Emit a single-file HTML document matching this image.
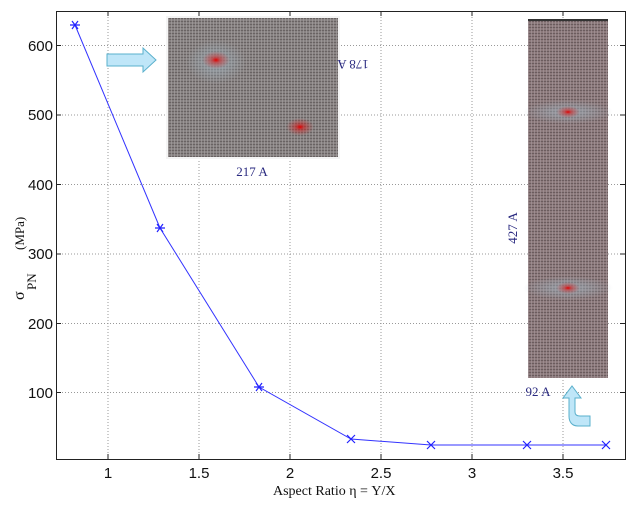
<!DOCTYPE html>
<html><head><meta charset="utf-8"><style>
html,body{margin:0;padding:0;background:#fff;}
svg{display:block;}
</style></head><body>
<svg width="641" height="507" viewBox="0 0 641 507" xmlns="http://www.w3.org/2000/svg" font-family="Liberation Sans, sans-serif">
<defs>
<pattern id="mesh" width="3" height="3" patternUnits="userSpaceOnUse">
<rect width="3" height="3" fill="#878282"/>
<rect width="3" height="1" fill="#696363"/>
<rect width="1" height="3" fill="#a9a4a4" opacity="0.6"/>
</pattern>
<pattern id="mesh2" width="3" height="3" patternUnits="userSpaceOnUse">
<rect width="3" height="3" fill="#8c7a7c"/>
<rect width="3" height="1" fill="#6b5c5e"/>
<rect width="1" height="3" fill="#a89a9c" opacity="0.6"/>
</pattern>
<radialGradient id="red"><stop offset="0" stop-color="#e00000"/><stop offset="0.3" stop-color="#d02020" stop-opacity="0.6"/><stop offset="1" stop-color="#c04040" stop-opacity="0"/></radialGradient>
<radialGradient id="blu"><stop offset="0" stop-color="#a0b4c0" stop-opacity="0.7"/><stop offset="1" stop-color="#a0b4c0" stop-opacity="0"/></radialGradient>
</defs>
<g stroke="#999" stroke-width="1" stroke-dasharray="1,2">
<line x1="108" y1="11" x2="108" y2="459"/><line x1="199" y1="11" x2="199" y2="459"/>
<line x1="290" y1="11" x2="290" y2="459"/><line x1="381" y1="11" x2="381" y2="459"/>
<line x1="472" y1="11" x2="472" y2="459"/><line x1="563" y1="11" x2="563" y2="459"/>
<line x1="56" y1="45.5" x2="625" y2="45.5"/><line x1="56" y1="115" x2="625" y2="115"/>
<line x1="56" y1="184.5" x2="625" y2="184.5"/><line x1="56" y1="254" x2="625" y2="254"/>
<line x1="56" y1="323.5" x2="625" y2="323.5"/><line x1="56" y1="392.5" x2="625" y2="392.5"/>
</g>
<rect x="56.5" y="11.5" width="569" height="448" fill="none" stroke="#222" stroke-width="1"/>
<g stroke="#222">
<line x1="108" y1="459" x2="108" y2="454"/><line x1="199" y1="459" x2="199" y2="454"/><line x1="290" y1="459" x2="290" y2="454"/><line x1="381" y1="459" x2="381" y2="454"/><line x1="472" y1="459" x2="472" y2="454"/><line x1="563" y1="459" x2="563" y2="454"/>
<line x1="108" y1="11" x2="108" y2="16"/><line x1="199" y1="11" x2="199" y2="16"/><line x1="290" y1="11" x2="290" y2="16"/><line x1="381" y1="11" x2="381" y2="16"/><line x1="472" y1="11" x2="472" y2="16"/><line x1="563" y1="11" x2="563" y2="16"/>
<line x1="56" y1="45.5" x2="61" y2="45.5"/><line x1="56" y1="115" x2="61" y2="115"/><line x1="56" y1="184.5" x2="61" y2="184.5"/><line x1="56" y1="254" x2="61" y2="254"/><line x1="56" y1="323.5" x2="61" y2="323.5"/><line x1="56" y1="392.5" x2="61" y2="392.5"/>
<line x1="625" y1="45.5" x2="620" y2="45.5"/><line x1="625" y1="115" x2="620" y2="115"/><line x1="625" y1="184.5" x2="620" y2="184.5"/><line x1="625" y1="254" x2="620" y2="254"/><line x1="625" y1="323.5" x2="620" y2="323.5"/><line x1="625" y1="392.5" x2="620" y2="392.5"/>
</g>
<g font-size="15" fill="#111" text-anchor="end">
<text x="53" y="51">600</text><text x="53" y="120">500</text><text x="53" y="190">400</text><text x="53" y="259">300</text><text x="53" y="329">200</text><text x="53" y="398">100</text>
</g>
<g font-size="15" fill="#111" text-anchor="middle">
<text x="108" y="478">1</text><text x="199" y="478">1.5</text><text x="290" y="478">2</text><text x="381" y="478">2.5</text><text x="472" y="478">3</text><text x="563" y="478">3.5</text>
</g>
<text x="273" y="495" font-family="Liberation Serif, serif" font-size="14" fill="#111">Aspect Ratio  η = Y/X</text>
<g transform="translate(24,300) rotate(-90)" fill="#111" font-family="Liberation Serif, serif">
<text x="0" y="0" font-size="16">σ</text><text x="10" y="12" font-size="13">PN</text><text x="50" y="0" font-size="13">(MPa)</text>
</g>
<polyline fill="none" stroke="#3333ff" stroke-width="1" points="75,25 160,228 259,387 351,439 431,445 527,445 606,445"/>
<g stroke="#2222ff" stroke-width="1.2">
<path d="M70,25h10M72,21l6,8M78,21l-6,8"/><path d="M155,228h10M157,224l6,8M163,224l-6,8"/>
<path d="M254,387h10M256,383l6,8M262,383l-6,8"/><path d="M347,435l8,8M355,435l-8,8"/>
<path d="M427,441l8,8M435,441l-8,8"/><path d="M523,441l8,8M531,441l-8,8"/><path d="M602,441l8,8M610,441l-8,8"/>
</g>
<rect x="166" y="16" width="174" height="143" fill="#f4f4f4"/>
<rect x="168" y="18" width="170" height="139" fill="url(#mesh)"/>
<ellipse cx="216" cy="62" rx="30" ry="22" fill="url(#blu)"/>
<ellipse cx="216" cy="60" rx="14" ry="9" fill="url(#red)"/>
<ellipse cx="300" cy="127" rx="14" ry="9" fill="url(#red)"/>
<text x="252" y="176" text-anchor="middle" font-family="Liberation Serif, serif" font-size="13" fill="#2a2a80">217 A</text>
<text transform="translate(353,60) rotate(180)" font-family="Liberation Serif, serif" font-size="13" fill="#2a2a80" text-anchor="middle">178 A</text>
<path d="M107,54h36v-6l13,12l-13,12v-6h-36z" fill="#bfe6f8" stroke="#5ab0cc" stroke-width="1"/>
<rect x="528" y="19" width="80" height="359" fill="url(#mesh2)"/>
<rect x="528" y="19" width="80" height="2" fill="#333"/>
<ellipse cx="568" cy="112" rx="45" ry="12" fill="url(#blu)"/>
<ellipse cx="568" cy="288" rx="45" ry="12" fill="url(#blu)"/>
<ellipse cx="568" cy="112" rx="12" ry="6" fill="url(#red)"/>
<ellipse cx="568" cy="288" rx="12" ry="6" fill="url(#red)"/>
<text transform="translate(517,228) rotate(-90)" font-family="Liberation Serif, serif" font-size="13" fill="#2a2a80" text-anchor="middle">427 A</text>
<text x="538" y="396" text-anchor="middle" font-family="Liberation Serif, serif" font-size="13" fill="#2a2a80">92 A</text>
<path d="M590,426h-12c-6,0-9,-4-9,-10v-18h-6l9,-12l9,12h-6v14c0,3,2,4,5,4h10z" fill="#bfe6f8" stroke="#5ab0cc" stroke-width="1"/>
</svg>
</body></html>
